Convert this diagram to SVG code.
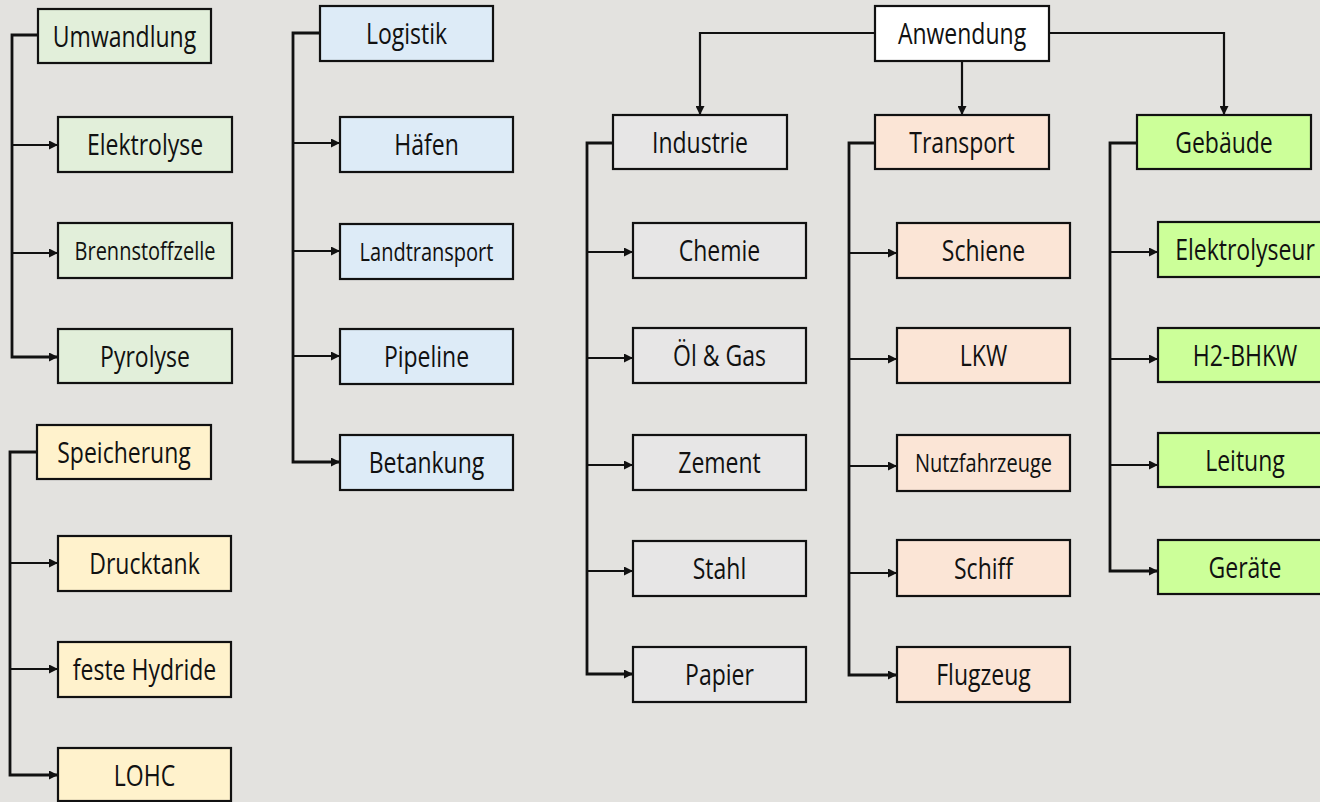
<svg xmlns="http://www.w3.org/2000/svg" width="1320" height="802" viewBox="0 0 1320 802">
<style>
.bg{fill:#e3e2df}
.box{stroke:#111;stroke-width:2.2}
.g1{fill:#e2efda}.y1{fill:#fff2cc}.b1{fill:#ddebf7}.w1{fill:#ffffff}.i1{fill:#e7e6e6}.t1{fill:#fbe5d6}.l1{fill:#ccff99}
text{font-family:"Open Sans","Noto Sans",sans-serif;font-size:23px;fill:#111;text-anchor:middle}
text.s{font-size:20px}
.c{fill:none;stroke:#111;stroke-width:2.2}
.c2{fill:none;stroke:#111;stroke-width:2.8}
</style>
<defs>
<marker id="ah" markerUnits="userSpaceOnUse" markerWidth="9" markerHeight="9" refX="9" refY="4.5" orient="auto">
<path d="M0,0 L9,4.5 L0,9 z" fill="#111"/>
</marker>
</defs>
<rect class="bg" x="0" y="0" width="1320" height="802"/>
<g id="connectors">
<path class="c2" d="M38,35 H12 V357 H58" marker-end="url(#ah)"/>
<path class="c" d="M12,145 H58" marker-end="url(#ah)"/>
<path class="c" d="M12,253 H58" marker-end="url(#ah)"/>
<path class="c2" d="M37,452 H10 V775 H58" marker-end="url(#ah)"/>
<path class="c" d="M10,563 H58" marker-end="url(#ah)"/>
<path class="c" d="M10,669 H58" marker-end="url(#ah)"/>
<path class="c2" d="M320,33 H293 V462 H340" marker-end="url(#ah)"/>
<path class="c" d="M293,143 H340" marker-end="url(#ah)"/>
<path class="c" d="M293,251 H340" marker-end="url(#ah)"/>
<path class="c" d="M293,356 H340" marker-end="url(#ah)"/>
<path class="c" d="M875,33 H700 V115" marker-end="url(#ah)"/>
<path class="c" d="M962,61 V115" marker-end="url(#ah)"/>
<path class="c" d="M1049,33 H1224 V115" marker-end="url(#ah)"/>
<path class="c2" d="M613,143 H587 V674 H633" marker-end="url(#ah)"/>
<path class="c" d="M587,252 H633" marker-end="url(#ah)"/>
<path class="c" d="M587,358 H633" marker-end="url(#ah)"/>
<path class="c" d="M587,465 H633" marker-end="url(#ah)"/>
<path class="c" d="M587,571 H633" marker-end="url(#ah)"/>
<path class="c2" d="M875,143 H849 V675 H897" marker-end="url(#ah)"/>
<path class="c" d="M849,253 H897" marker-end="url(#ah)"/>
<path class="c" d="M849,359 H897" marker-end="url(#ah)"/>
<path class="c" d="M849,466 H897" marker-end="url(#ah)"/>
<path class="c" d="M849,573 H897" marker-end="url(#ah)"/>
<path class="c2" d="M1137,143 H1110 V571 H1158" marker-end="url(#ah)"/>
<path class="c" d="M1110,252 H1158" marker-end="url(#ah)"/>
<path class="c" d="M1110,359 H1158" marker-end="url(#ah)"/>
<path class="c" d="M1110,465 H1158" marker-end="url(#ah)"/>
</g>
<g id="umwandlung"><rect class="box g1" x="38" y="9" width="173" height="54"/><text transform="translate(124.5,36) scale(1,1.28)" y="8.4">Umwandlung</text></g>
<g id="elektrolyse"><rect class="box g1" x="58" y="117" width="174" height="55"/><text transform="translate(145,144.5) scale(1,1.28)" y="8.4">Elektrolyse</text></g>
<g id="brennstoffzelle"><rect class="box g1" x="58" y="223" width="174" height="55"/><text class="s" transform="translate(145,250.5) scale(1,1.28)" y="7.3">Brennstoffzelle</text></g>
<g id="pyrolyse"><rect class="box g1" x="58" y="329" width="174" height="54"/><text transform="translate(145,356) scale(1,1.28)" y="8.4">Pyrolyse</text></g>
<g id="speicherung"><rect class="box y1" x="37" y="425" width="174" height="54"/><text transform="translate(124,452) scale(1,1.28)" y="8.4">Speicherung</text></g>
<g id="drucktank"><rect class="box y1" x="58" y="536" width="173" height="55"/><text transform="translate(144.5,563.5) scale(1,1.28)" y="8.4">Drucktank</text></g>
<g id="feste-hydride"><rect class="box y1" x="58" y="642" width="173" height="55"/><text transform="translate(144.5,669.5) scale(1,1.28)" y="8.4">feste Hydride</text></g>
<g id="lohc"><rect class="box y1" x="58" y="748" width="173" height="53"/><text transform="translate(144.5,775) scale(1,1.28)" y="8.4">LOHC</text></g>
<g id="logistik"><rect class="box b1" x="320" y="6" width="173" height="55"/><text transform="translate(406.5,33.5) scale(1,1.28)" y="8.4">Logistik</text></g>
<g id="haefen"><rect class="box b1" x="340" y="117" width="173" height="55"/><text transform="translate(426.5,144.5) scale(1,1.28)" y="8.4">Häfen</text></g>
<g id="landtransport"><rect class="box b1" x="340" y="224" width="173" height="55"/><text class="s" transform="translate(426.5,251.5) scale(1,1.28)" y="7.3">Landtransport</text></g>
<g id="pipeline"><rect class="box b1" x="340" y="329" width="173" height="55"/><text transform="translate(426.5,356.5) scale(1,1.28)" y="8.4">Pipeline</text></g>
<g id="betankung"><rect class="box b1" x="340" y="435" width="173" height="55"/><text transform="translate(426.5,462.5) scale(1,1.28)" y="8.4">Betankung</text></g>
<g id="anwendung"><rect class="box w1" x="875" y="6" width="174" height="55"/><text transform="translate(962,33.5) scale(1,1.28)" y="8.4">Anwendung</text></g>
<g id="industrie"><rect class="box i1" x="613" y="115" width="174" height="54"/><text transform="translate(700,142) scale(1,1.28)" y="8.4">Industrie</text></g>
<g id="transport"><rect class="box t1" x="875" y="115" width="174" height="54"/><text transform="translate(962,142) scale(1,1.28)" y="8.4">Transport</text></g>
<g id="gebaeude"><rect class="box l1" x="1137" y="115" width="174" height="54"/><text transform="translate(1224,142) scale(1,1.28)" y="8.4">Gebäude</text></g>
<g id="chemie"><rect class="box i1" x="633" y="223" width="173" height="55"/><text transform="translate(719.5,250.5) scale(1,1.28)" y="8.4">Chemie</text></g>
<g id="oel-gas"><rect class="box i1" x="633" y="328" width="173" height="55"/><text transform="translate(719.5,355.5) scale(1,1.28)" y="8.4">Öl &amp; Gas</text></g>
<g id="zement"><rect class="box i1" x="633" y="435" width="173" height="55"/><text transform="translate(719.5,462.5) scale(1,1.28)" y="8.4">Zement</text></g>
<g id="stahl"><rect class="box i1" x="633" y="541" width="173" height="55"/><text transform="translate(719.5,568.5) scale(1,1.28)" y="8.4">Stahl</text></g>
<g id="papier"><rect class="box i1" x="633" y="647" width="173" height="55"/><text transform="translate(719.5,674.5) scale(1,1.28)" y="8.4">Papier</text></g>
<g id="schiene"><rect class="box t1" x="897" y="223" width="173" height="55"/><text transform="translate(983.5,250.5) scale(1,1.28)" y="8.4">Schiene</text></g>
<g id="lkw"><rect class="box t1" x="897" y="328" width="173" height="55"/><text transform="translate(983.5,355.5) scale(1,1.28)" y="8.4">LKW</text></g>
<g id="nutzfahrzeuge"><rect class="box t1" x="897" y="435" width="173" height="56"/><text class="s" transform="translate(983.5,463) scale(1,1.28)" y="7.3">Nutzfahrzeuge</text></g>
<g id="schiff"><rect class="box t1" x="897" y="540" width="173" height="56"/><text transform="translate(983.5,568) scale(1,1.28)" y="8.4">Schiff</text></g>
<g id="flugzeug"><rect class="box t1" x="897" y="647" width="173" height="55"/><text transform="translate(983.5,674.5) scale(1,1.28)" y="8.4">Flugzeug</text></g>
<g id="elektrolyseur"><rect class="box l1" x="1158" y="222" width="174" height="55"/><text transform="translate(1245,249.5) scale(1,1.28)" y="8.4">Elektrolyseur</text></g>
<g id="h2-bhkw"><rect class="box l1" x="1158" y="328" width="174" height="54"/><text transform="translate(1245,355) scale(1,1.28)" y="8.4">H2-BHKW</text></g>
<g id="leitung"><rect class="box l1" x="1158" y="433" width="174" height="54"/><text transform="translate(1245,460) scale(1,1.28)" y="8.4">Leitung</text></g>
<g id="geraete"><rect class="box l1" x="1158" y="540" width="174" height="54"/><text transform="translate(1245,567) scale(1,1.28)" y="8.4">Geräte</text></g>
</svg>
